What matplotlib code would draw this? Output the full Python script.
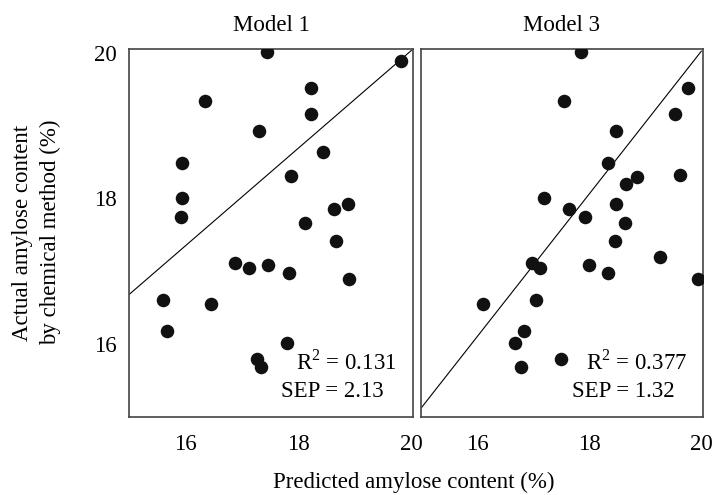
import matplotlib
matplotlib.use('Agg')
import matplotlib.pyplot as plt

plt.rcParams['font.family'] = ['Liberation Serif', 'DejaVu Serif']
plt.rcParams['mathtext.fontset'] = 'custom'
plt.rcParams['mathtext.rm'] = 'Liberation Serif'

# Model 1: predicted vs actual amylose content (%)
model1_pred = [17.44, 19.81, 18.22, 16.34, 18.22, 17.30, 18.43, 15.94, 17.86, 15.94,
               18.87, 18.63, 15.92, 18.12, 18.67, 16.87, 17.13, 17.46, 17.83, 18.90,
               15.61, 16.46, 15.67, 17.80, 17.27, 17.33]
model1_actual = [20.01, 19.88, 19.51, 19.33, 19.16, 18.92, 18.64, 18.48, 18.31, 18.01,
                 17.92, 17.86, 17.75, 17.66, 17.42, 17.11, 17.05, 17.09, 16.98, 16.89,
                 16.61, 16.55, 16.18, 16.01, 15.80, 15.68]

# Model 3
model3_pred = [17.86, 19.76, 17.55, 19.53, 18.48, 18.34, 19.62, 18.85, 18.65, 17.20,
               18.48, 17.64, 17.92, 18.63, 18.46, 19.26, 16.98, 17.13, 18.00, 18.34,
               19.94, 17.06, 16.10, 16.84, 16.67, 17.49, 16.79]
model3_actual = [20.01, 19.51, 19.33, 19.16, 18.92, 18.48, 18.32, 18.29, 18.20, 18.01,
                 17.92, 17.86, 17.75, 17.66, 17.42, 17.20, 17.11, 17.05, 17.09, 16.98,
                 16.90, 16.61, 16.55, 16.18, 16.01, 15.79, 15.68]

# fitted lines (x ends, y ends)
fit_x = [15, 20]
fit1_y = [16.68, 20.03]
fit3_y = [15.12, 20.02]

titles = ['Model 1', 'Model 3']
stats = [('R$^2$ = 0.131', 'SEP = 2.13'), ('R$^2$ = 0.377', 'SEP = 1.32')]
ticks = [16, 18, 20]

fig = plt.figure(figsize=(7.14, 4.95), dpi=100)
ax1 = fig.add_axes([0.1807, 0.1576, 0.3978, 0.7434])
ax2 = fig.add_axes([0.5896, 0.1576, 0.3950, 0.7434])

panels = [(ax1, model1_pred, model1_actual, fit1_y),
          (ax2, model3_pred, model3_actual, fit3_y)]

fs = 16.5
for i, (ax, px, py, fy) in enumerate(panels):
    ax.scatter(px, py, s=95, color='#111111', zorder=3, linewidths=0)
    ax.plot(fit_x, fy, color='black', lw=0.8)
    ax.set_xlim(15, 20.03)
    ax.set_ylim(15, 20.05)
    ax.set_xticks(ticks)
    ax.set_yticks(ticks)
    ax.tick_params(length=0, labelsize=fs, pad=12)
    ax.tick_params(axis='y', pad=9)
    if i == 1:
        ax.set_yticklabels([])
    for sp in ax.spines.values():
        sp.set_color('#444444')
        sp.set_linewidth(1.2)
    ax.set_title(titles[i], fontsize=fs, pad=13)
    ax.text(0.764, 0.148, stats[i][0], transform=ax.transAxes, ha='center', va='center', fontsize=fs)
    ax.text(0.717, 0.068, stats[i][1], transform=ax.transAxes, ha='center', va='center', fontsize=fs)

fig.text(0.051, 0.53, 'Actual amylose content\nby chemical method (%)', rotation=90,
         ha='center', va='center', fontsize=fs, linespacing=1.4)
fig.text(0.58, 0.026, 'Predicted amylose content (%)', ha='center', va='center', fontsize=fs)

fig.savefig('out.png', dpi=100)
